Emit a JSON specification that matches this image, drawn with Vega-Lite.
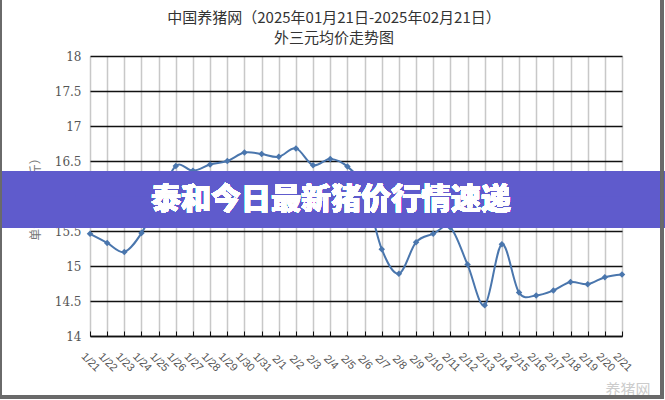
{
  "$schema": "https://vega.github.io/schema/vega-lite/v6.json",
  "width": 532,
  "height": 280,
  "autosize": {"type": "none"},
  "padding": {"left": 90, "top": 56, "right": 43, "bottom": 64},
  "background": "white",
  "config": {"view": {"stroke": null}},
  "title": {
    "text": ["中国养猪网（2025年01月21日-2025年02月21日）", "外三元均价走势图"],
    "font": "Noto Sans CJK SC",
    "fontSize": 15,
    "fontWeight": "normal",
    "color": "#333333",
    "lineHeight": 20,
    "anchor": "middle",
    "offset": 0,
    "dx": -22,
    "dy": 49
  },
  "data": {
    "values": [
      {"date": "2025-01-21", "price": 15.46},
      {"date": "2025-01-22", "price": 15.33},
      {"date": "2025-01-23", "price": 15.2},
      {"date": "2025-01-24", "price": 15.47},
      {"date": "2025-01-25", "price": 15.95},
      {"date": "2025-01-26", "price": 16.43},
      {"date": "2025-01-27", "price": 16.36},
      {"date": "2025-01-28", "price": 16.45},
      {"date": "2025-01-29", "price": 16.5},
      {"date": "2025-01-30", "price": 16.62},
      {"date": "2025-01-31", "price": 16.6},
      {"date": "2025-02-01", "price": 16.56},
      {"date": "2025-02-02", "price": 16.68},
      {"date": "2025-02-03", "price": 16.44},
      {"date": "2025-02-04", "price": 16.53},
      {"date": "2025-02-05", "price": 16.42},
      {"date": "2025-02-06", "price": 16.1},
      {"date": "2025-02-07", "price": 15.24},
      {"date": "2025-02-08", "price": 14.89},
      {"date": "2025-02-09", "price": 15.34},
      {"date": "2025-02-10", "price": 15.46},
      {"date": "2025-02-11", "price": 15.55},
      {"date": "2025-02-12", "price": 15.02},
      {"date": "2025-02-13", "price": 14.44},
      {"date": "2025-02-14", "price": 15.31},
      {"date": "2025-02-15", "price": 14.62},
      {"date": "2025-02-16", "price": 14.58},
      {"date": "2025-02-17", "price": 14.65},
      {"date": "2025-02-18", "price": 14.77},
      {"date": "2025-02-19", "price": 14.74},
      {"date": "2025-02-20", "price": 14.84},
      {"date": "2025-02-21", "price": 14.88}
    ]
  },
  "encoding": {
    "x": {
      "field": "date",
      "type": "temporal",
      "timeUnit": "utcyearmonthdate",
      "scale": {
        "domain": [
          {"year": 2025, "month": 1, "date": 21, "utc": true},
          {"year": 2025, "month": 2, "date": 21, "utc": true}
        ],
        "nice": false
      },
      "axis": {
        "format": "%-m/%-d",
        "tickCount": {"interval": "day", "step": 1},
        "labelAngle": 45,
        "labelAlign": "center",
        "labelBaseline": "middle",
        "labelFont": "Liberation Sans",
        "labelFontSize": 11,
        "labelColor": "#555555",
        "labelPadding": 31,
        "labelOverlap": false,
        "labelFlush": false,
        "tickSize": -5,
        "tickColor": "#111111",
        "domainColor": "#111111",
        "domainWidth": 1.5,
        "grid": true,
        "gridColor": "#c8c8c8",
        "gridWidth": 1.5,
        "title": "养猪网",
        "titleFont": "Noto Sans CJK SC",
        "titleFontSize": 15,
        "titleFontWeight": "normal",
        "titleColor": "#cccccc",
        "titleAnchor": "end",
        "titleAlign": "right",
        "titleBaseline": "middle",
        "titleX": 560,
        "titleY": 53
      }
    },
    "y": {
      "field": "price",
      "type": "quantitative",
      "scale": {"domain": [14, 18], "nice": false, "zero": false},
      "axis": {
        "values": [14, 14.5, 15, 15.5, 16, 16.5, 17, 17.5, 18],
        "labelExpr": "datum.value % 1 === 0 ? format(datum.value, 'd') : format(datum.value, '.1f')",
        "labelFont": "DejaVu Serif",
        "labelFontSize": 12,
        "labelColor": "#555555",
        "labelPadding": 9,
        "ticks": false,
        "domain": false,
        "grid": true,
        "gridColor": "#111111",
        "gridWidth": 1.3,
        "title": "单位（元/公斤）",
        "titleFont": "Noto Sans CJK SC",
        "titleFontSize": 12,
        "titleFontWeight": "normal",
        "titleColor": "#777777",
        "titlePadding": 12
      }
    }
  },
  "layer": [
    {
      "mark": {"type": "line", "interpolate": "cardinal", "color": "#4a76ad", "strokeWidth": 2}
    },
    {
      "mark": {"type": "point", "shape": "diamond", "filled": true, "size": 42, "color": "#4a76ad", "opacity": 1}
    },
    {
      "mark": {"type": "rect", "color": "#5f5bcc", "opacity": 0.78, "clip": false},
      "encoding": {
        "x": {"datum": {"year": 2025, "month": 1, "date": 15, "hours": 12, "utc": true}},
        "x2": {"datum": {"year": 2025, "month": 2, "date": 24, "utc": true}},
        "y": {"datum": 16.357},
        "y2": {"datum": 15.543}
      }
    },
    {
      "mark": {"type": "text", "text": "泰和今日最新猪价行情速递", "font": "Noto Sans CJK SC", "fontSize": 30, "fontWeight": 900, "color": "white", "align": "center", "baseline": "middle", "clip": false},
      "encoding": {
        "x": {"datum": {"year": 2025, "month": 2, "date": 4, "hours": 1, "utc": true}},
        "y": {"datum": 15.943}
      }
    },
    {
      "mark": {"type": "rect", "filled": false, "stroke": "#6a6a6a", "strokeWidth": 2.5, "clip": false},
      "encoding": {
        "x": {"datum": {"year": 2025, "month": 1, "date": 15, "hours": 19, "utc": true}},
        "x2": {"datum": {"year": 2025, "month": 2, "date": 23, "hours": 8, "utc": true}},
        "y": {"datum": 18.83},
        "y2": {"datum": 13.129}
      }
    }
  ]
}
